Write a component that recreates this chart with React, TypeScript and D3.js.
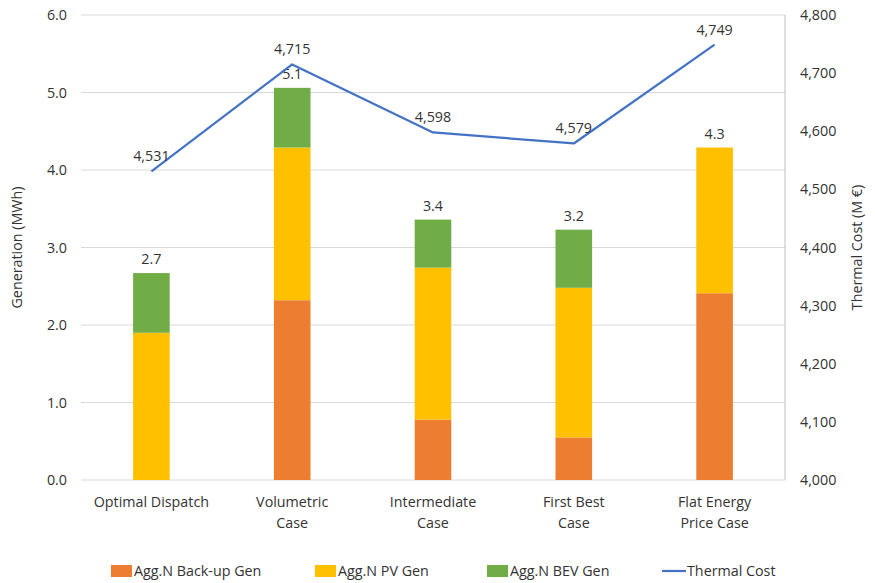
import React, { useEffect, useRef } from 'react';
import * as d3 from 'd3';

const categories = ['Optimal Dispatch', 'Volumetric Case', 'Intermediate Case', 'First Best Case', 'Flat Energy Price Case'];
const categoryLines = [['Optimal Dispatch'], ['Volumetric', 'Case'], ['Intermediate', 'Case'], ['First Best', 'Case'], ['Flat Energy', 'Price Case']];
const backupGen = [0, 2.32, 0.78, 0.55, 2.41];
const pvGen = [1.9, 1.97, 1.96, 1.93, 1.88];
const bevGen = [0.77, 0.77, 0.62, 0.75, 0];
const totalLabels = ['2.7', '5.1', '3.4', '3.2', '4.3'];
const thermalCost = [4531, 4715, 4598, 4579, 4749];
const leftTicks = [0, 1, 2, 3, 4, 5, 6];
const rightTicks = [4000, 4100, 4200, 4300, 4400, 4500, 4600, 4700, 4800];

const seriesNames = ['Agg.N Back-up Gen', 'Agg.N PV Gen', 'Agg.N BEV Gen'];
const colors = ['#ED7D31', '#FFC000', '#70AD47'];
const lineColor = '#4472C4';

const App: React.FC = () => {
  const svgRef = useRef<SVGSVGElement>(null);

  useEffect(() => {
    if (!svgRef.current) return;
    const width = 875;
    const height = 583;
    const margin = { top: 15, right: 90, bottom: 103, left: 81 };
    const font = '"Open Sans", "Liberation Sans", sans-serif';
    const fs = 14.3;
    const txt = '#333333';

    const svg = d3.select(svgRef.current);
    svg.selectAll('*').remove();
    svg.append('rect').attr('width', width).attr('height', height).attr('fill', '#fff');

    const x = d3.scaleBand()
      .domain(categories)
      .range([margin.left, width - margin.right])
      .paddingInner(0.74)
      .paddingOuter(0.37);

    const y = d3.scaleLinear().domain([0, 6]).range([height - margin.bottom, margin.top]);
    const y2 = d3.scaleLinear().domain([4000, 4800]).range([height - margin.bottom, margin.top]);

    // Grid lines
    svg.append('g')
      .selectAll('line')
      .data(leftTicks)
      .join('line')
      .attr('x1', margin.left)
      .attr('x2', width - margin.right)
      .attr('y1', d => y(d))
      .attr('y2', d => y(d))
      .attr('stroke', '#d9d9d9')
      .attr('stroke-width', 1);

    // Left tick labels
    svg.append('g')
      .selectAll('text')
      .data(leftTicks)
      .join('text')
      .attr('x', margin.left - 14)
      .attr('y', d => y(d))
      .attr('dy', '0.35em')
      .attr('text-anchor', 'end')
      .attr('font-family', font)
      .attr('font-size', fs)
      .attr('fill', txt)
      .text(d => d3.format('.1f')(d));

    // Right axis line
    svg.append('line')
      .attr('x1', width - margin.right)
      .attr('x2', width - margin.right)
      .attr('y1', y2(4800))
      .attr('y2', y2(4000))
      .attr('stroke', '#bfbfbf');

    svg.append('g')
      .selectAll('text')
      .data(rightTicks)
      .join('text')
      .attr('x', width - margin.right + 15)
      .attr('y', d => y2(d))
      .attr('dy', '0.35em')
      .attr('font-family', font)
      .attr('font-size', fs)
      .attr('fill', txt)
      .text(d => d3.format(',')(d));

    // Stacked bars
    const rows = categories.map((c, i) => ({ c, b: backupGen[i], p: pvGen[i], v: bevGen[i] }));
    const stack = d3.stack<any>().keys(['b', 'p', 'v'])(rows);
    stack.forEach((layer, si) => {
      svg.append('g')
        .selectAll('rect')
        .data(layer)
        .join('rect')
        .attr('x', d => x(d.data.c)!)
        .attr('width', x.bandwidth())
        .attr('y', d => y(d[1]))
        .attr('height', d => Math.max(0, y(d[0]) - y(d[1])))
        .attr('fill', colors[si]);
    });

    // Totals
    svg.append('g')
      .selectAll('text')
      .data(rows)
      .join('text')
      .attr('x', d => x(d.c)! + x.bandwidth() / 2)
      .attr('y', d => y(d.b + d.p + d.v) - 9)
      .attr('text-anchor', 'middle')
      .attr('font-family', font)
      .attr('font-size', fs)
      .attr('fill', txt)
      .text((d, i) => totalLabels[i]);

    // Thermal cost line
    const line = d3.line<number>()
      .x((d, i) => x(categories[i])! + x.bandwidth() / 2)
      .y(d => y2(d));
    svg.append('path')
      .datum(thermalCost)
      .attr('d', line)
      .attr('fill', 'none')
      .attr('stroke', lineColor)
      .attr('stroke-width', 2.25)
      .attr('stroke-linejoin', 'round');

    svg.append('g')
      .selectAll('text')
      .data(thermalCost)
      .join('text')
      .attr('x', (d, i) => x(categories[i])! + x.bandwidth() / 2)
      .attr('y', d => y2(d) - 10)
      .attr('text-anchor', 'middle')
      .attr('font-family', font)
      .attr('font-size', fs)
      .attr('fill', txt)
      .text(d => d3.format(',')(d));

    // Category labels
    categoryLines.forEach((lines, i) => {
      const t = svg.append('text')
        .attr('text-anchor', 'middle')
        .attr('font-family', font)
        .attr('font-size', fs)
        .attr('fill', txt);
      lines.forEach((l, j) => {
        t.append('tspan')
          .attr('x', x(categories[i])! + x.bandwidth() / 2)
          .attr('y', height - margin.bottom + 27 + j * 21)
          .text(l);
      });
    });

    // Axis titles
    svg.append('text')
      .attr('transform', `translate(22, ${(y(0) + y(6)) / 2}) rotate(-90)`)
      .attr('text-anchor', 'middle')
      .attr('font-family', font)
      .attr('font-size', fs)
      .attr('fill', txt)
      .text('Generation (MWh)');

    svg.append('text')
      .attr('transform', `translate(862, ${(y(0) + y(6)) / 2}) rotate(-90)`)
      .attr('text-anchor', 'middle')
      .attr('font-family', font)
      .attr('font-size', fs)
      .attr('fill', txt)
      .text('Thermal Cost (M €)');

    // Legend
    const legendX = [111, 315, 487];
    seriesNames.forEach((name, i) => {
      svg.append('rect')
        .attr('x', legendX[i])
        .attr('y', 565)
        .attr('width', 21)
        .attr('height', 12)
        .attr('fill', colors[i]);
      svg.append('text')
        .attr('x', legendX[i] + 23)
        .attr('y', 571)
        .attr('dy', '0.35em')
        .attr('font-family', font)
        .attr('font-size', fs)
        .attr('fill', txt)
        .text(name);
    });
    svg.append('line')
      .attr('x1', 662)
      .attr('x2', 686)
      .attr('y1', 571)
      .attr('y2', 571)
      .attr('stroke', lineColor)
      .attr('stroke-width', 2.25);
    svg.append('text')
      .attr('x', 687)
      .attr('y', 571)
      .attr('dy', '0.35em')
      .attr('font-family', font)
      .attr('font-size', fs)
      .attr('fill', txt)
      .text('Thermal Cost');
  }, []);

  return (
    <div style={{ position: 'absolute', left: 0, top: 0 }}>
      <svg ref={svgRef} width={875} height={583} />
    </div>
  );
};

export default App;
